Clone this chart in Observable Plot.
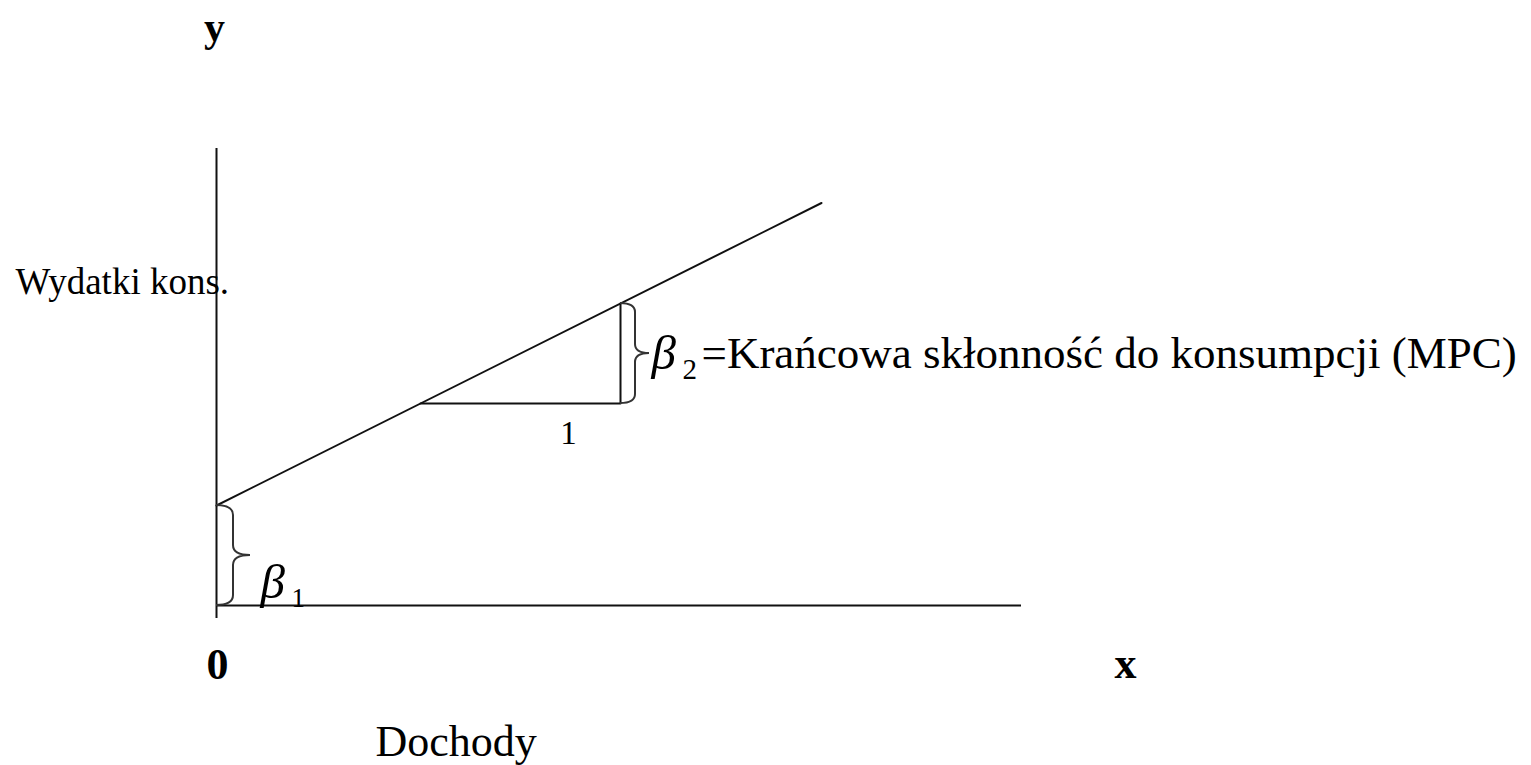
<!DOCTYPE html>
<html><head><meta charset="utf-8">
<script src="https://cdn.jsdelivr.net/npm/d3@7"></script>
<script src="https://cdn.jsdelivr.net/npm/@observablehq/plot@0.6"></script>
<style>html,body{margin:0;padding:0;background:#fff;} #chart{width:1531px;height:765px;}</style>
</head><body><div id="chart"></div>
<script>
// Axis extents (income units, consumption units)
const xAxisExtent = [0, 4.025];
const yAxisExtent = [-0.065, 2.285];
// Consumption function C = β1 + β2·Y
const income = [0, 3.025];
const consumption = [0.5, 2.0125];
// Slope triangle (one unit of income)
const stepIncome = [1.02, 2.02, 2.02];
const stepConsumption = [1.01, 1.01, 1.51];
// Braces: β1 (intercept) at income 0, β2 (rise) at income 2.02
const beta1Span = [0, 0.5];
const beta2Span = [1.01, 1.51];
const beta1At = 0;
const beta2At = 2.02;
// Texts
const axisLabels = ["y", "x", "0"];
const axisTitles = ["Wydatki kons.", "Dochody"];
const stepLabel = "1";
const betaSymbol = "β";
const betaSubs = ["1", "2"];
const mpcLabel = "=Krańcowa skłonność do konsumpcji (MPC)";

const FONT = "'Liberation Serif', 'Times New Roman', serif";

function brace(xVal, span, half, tip, r) {
  return (index, scales) => {
    const x0 = scales.x(xVal), yT = scales.y(span[1]), yB = scales.y(span[0]), ym = (yT + yB) / 2;
    const xh = x0 + half, xt = x0 + tip;
    const p = d3.path();
    p.moveTo(x0, yT);
    p.quadraticCurveTo(xh, yT, xh, yT + r);
    p.lineTo(xh, ym - r);
    p.quadraticCurveTo(xh, ym, xt, ym);
    p.quadraticCurveTo(xh, ym, xh, ym + r);
    p.lineTo(xh, yB - r);
    p.quadraticCurveTo(xh, yB, x0, yB);
    return d3.create("svg:path")
      .attr("d", p.toString())
      .attr("fill", "none")
      .attr("stroke", "#333")
      .attr("stroke-width", 2)
      .node();
  };
}

function label(text, xv, yv, opts) {
  return Plot.text([text], {x: [xv], y: [yv], text: d => d, lineAnchor: "bottom", fill: "#000", fontFamily: FONT, ...opts});
}

const chart = Plot.plot({
  width: 1531,
  height: 765,
  margin: 0,
  style: {background: "#fff", fontFamily: FONT},
  x: {domain: [-1.08, 6.575], axis: null},
  y: {domain: [-0.8, 3.025], axis: null},
  marks: [
    Plot.ruleX([beta1At], {y1: yAxisExtent[0], y2: yAxisExtent[1], stroke: "#111", strokeWidth: 2}),
    Plot.ruleY([0], {x1: xAxisExtent[0], x2: xAxisExtent[1], stroke: "#111", strokeWidth: 2}),
    Plot.line(income.map((d, i) => ({x: d, y: consumption[i]})), {x: "x", y: "y", stroke: "#111", strokeWidth: 2}),
    Plot.line(stepIncome.map((d, i) => ({x: d, y: stepConsumption[i]})), {x: "x", y: "y", stroke: "#111", strokeWidth: 2}),
    brace(beta1At, beta1Span, 17, 34, 10),
    brace(beta2At, beta2Span, 15, 29, 9),
    label(axisLabels[0], 0, yAxisExtent[1], {dx: -2, dy: -108, fontSize: 42, fontWeight: "bold", textAnchor: "middle"}),
    label(axisTitles[0], 0, yAxisExtent[1], {dx: -201, dy: 145, fontSize: 37, textAnchor: "start"}),
    label(axisLabels[2], 0, 0, {dx: 1, dy: 73, fontSize: 44, fontWeight: "bold", textAnchor: "middle"}),
    label(axisLabels[1], xAxisExtent[1], 0, {dx: 104, dy: 72, fontSize: 44, fontWeight: "bold", textAnchor: "middle"}),
    label(axisTitles[1], 0, 0, {dx: 159, dy: 150, fontSize: 44, textAnchor: "start"}),
    label(stepLabel, (stepIncome[0] + stepIncome[1]) / 2, stepConsumption[0], {dx: 48, dy: 40, fontSize: 33, textAnchor: "middle"}),
    label(betaSymbol, beta1At, beta1Span[0], {dx: 44, dy: -8, fontSize: 49, fontStyle: "italic", textAnchor: "start"}),
    label(betaSubs[0], beta1At, beta1Span[0], {dx: 75, dy: 1, fontSize: 27, textAnchor: "start"}),
    label(betaSymbol, beta2At, (beta2Span[0] + beta2Span[1]) / 2, {dx: 31, dy: 15, fontSize: 49, fontStyle: "italic", textAnchor: "start"}),
    label(betaSubs[1], beta2At, (beta2Span[0] + beta2Span[1]) / 2, {dx: 62, dy: 25, fontSize: 29, textAnchor: "start"}),
    label(mpcLabel, beta2At, (beta2Span[0] + beta2Span[1]) / 2, {dx: 81, dy: 14, fontSize: 45, textAnchor: "start"})
  ]
});
document.getElementById("chart").appendChild(chart);
</script>
</body></html>
